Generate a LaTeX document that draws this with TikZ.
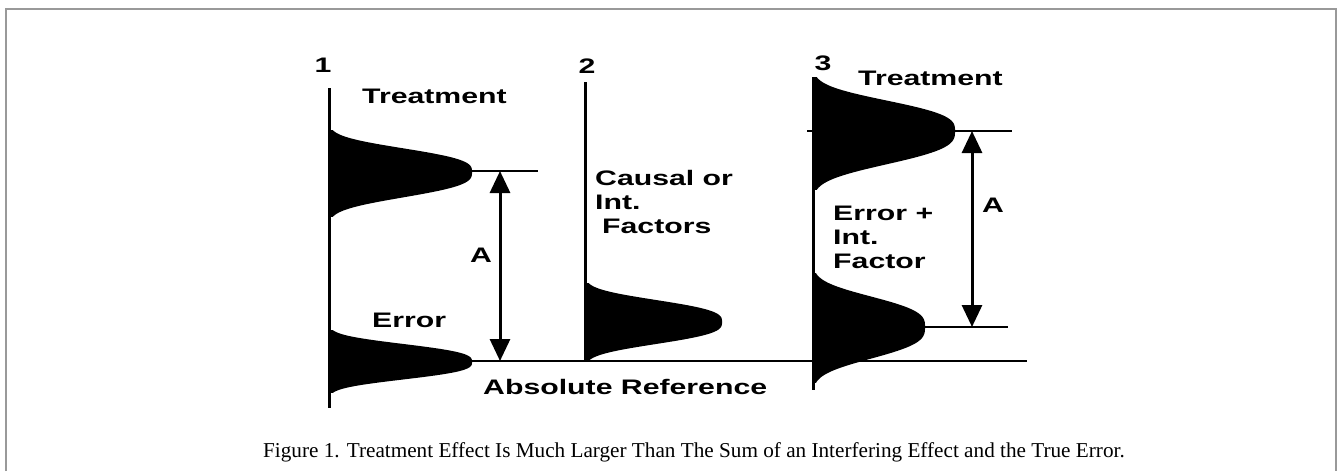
\documentclass[tikz,border=0pt]{standalone}
\usepackage{fontspec}
\setmainfont{Liberation Serif}
\newfontfamily\labfont{Liberation Sans}[FakeStretch=1.44]
\usetikzlibrary{arrows.meta}
\newcommand\bellshape[5]{% x0, yc, W, Ht, Hb
  \fill (#1,#2-#4) -- plot[domain=-1:0,samples=50] ({#1+#3*exp(-(abs(\x)*\x*\x)/0.2734)},{#2+#4*\x})
     -- plot[domain=0:1,samples=50] ({#1+#3*exp(-(abs(\x)*\x*\x)/0.2734)},{#2+#5*\x})
     -- (#1,#2+#5) -- cycle;}
\tikzset{
  lab/.style={font=\labfont\bfseries\fontsize{21}{24}\selectfont, inner sep=0pt, anchor=base west},
  axisline/.style={line width=3pt},
  refline/.style={line width=2.5pt},
  arr/.style={line width=3pt, {Triangle[width=20pt,length=22pt]}-{Triangle[width=20pt,length=22pt]}},
  frameline/.style={draw=black!40, line width=1.5pt},
  captext/.style={font=\fontsize{21.2}{25}\selectfont, inner sep=0pt, anchor=base west}
}
\begin{document}
\begin{tikzpicture}[x=1pt,y=-1pt]
\useasboundingbox (0,0) rectangle (1338,471);
\fill[white] (0,0) rectangle (1338,471);
\draw[frameline] (6,471) -- (6,9) -- (1336,9) -- (1336,471);
% axes
\draw[axisline] (329,88) -- (329,408);
\draw[axisline] (585,82) -- (585,362);
\draw[axisline] (813,77) -- (813,390);
% reference lines
\coordinate (t1a) at (472,171); \coordinate (t1b) at (538,171);
\coordinate (b0) at (472,361); \coordinate (b1) at (1027,361);
\coordinate (t3a) at (807,131); \coordinate (t3b) at (1012,131);
\coordinate (e3a) at (925,327); \coordinate (e3b) at (1008,327);
\draw[refline] (t1a) -- (t1b);
\draw[refline] (b0) -- (b1);
\draw[refline] (t3a) -- (t3b);
\draw[refline] (e3a) -- (e3b);
% bells
\bellshape{329}{172}{143}{42}{45}
\bellshape{329}{362}{143}{32}{31}
\bellshape{585}{322}{137}{39}{39}
\bellshape{813}{131}{142}{54}{59}
\bellshape{813}{327}{112}{54}{56}
% arrows
\coordinate (a1t) at (500,171); \coordinate (a1b) at (500,361);
\coordinate (a3t) at (972,131); \coordinate (a3b) at (972,327);
\draw[arr] (a1t) -- (a1b);
\draw[arr] (a3t) -- (a3b);
% labels
\node[lab, anchor=base] (n1) at (323,72) {1};
\node[lab, anchor=base] (n2) at (587,73) {2};
\node[lab, anchor=base] (n3) at (823,70) {3};
\node[lab] (treat1) at (362,103) {Treatment};
\node[lab] (treat3) at (858,85) {Treatment};
\node[lab] (err1) at (372,327) {Error};
\node[lab] (A1) at (470,262) {A};
\node[lab] (A3) at (982,212) {A};
\node[lab] (causal) at (595,185) {\begin{tabular}[t]{@{}l@{}}Causal or\\Int.\\\hspace{7pt}Factors\end{tabular}};
\node[lab] (errint) at (833,220) {\begin{tabular}[t]{@{}l@{}}Error +\\Int.\\Factor\end{tabular}};
\node[lab] (absref) at (483,394) {Absolute Reference};
\node[captext] (caption) at (263,457) {Figure 1. Treatment Effect Is Much Larger Than The Sum of an Interfering Effect and the True Error.};
\end{tikzpicture}
\end{document}
